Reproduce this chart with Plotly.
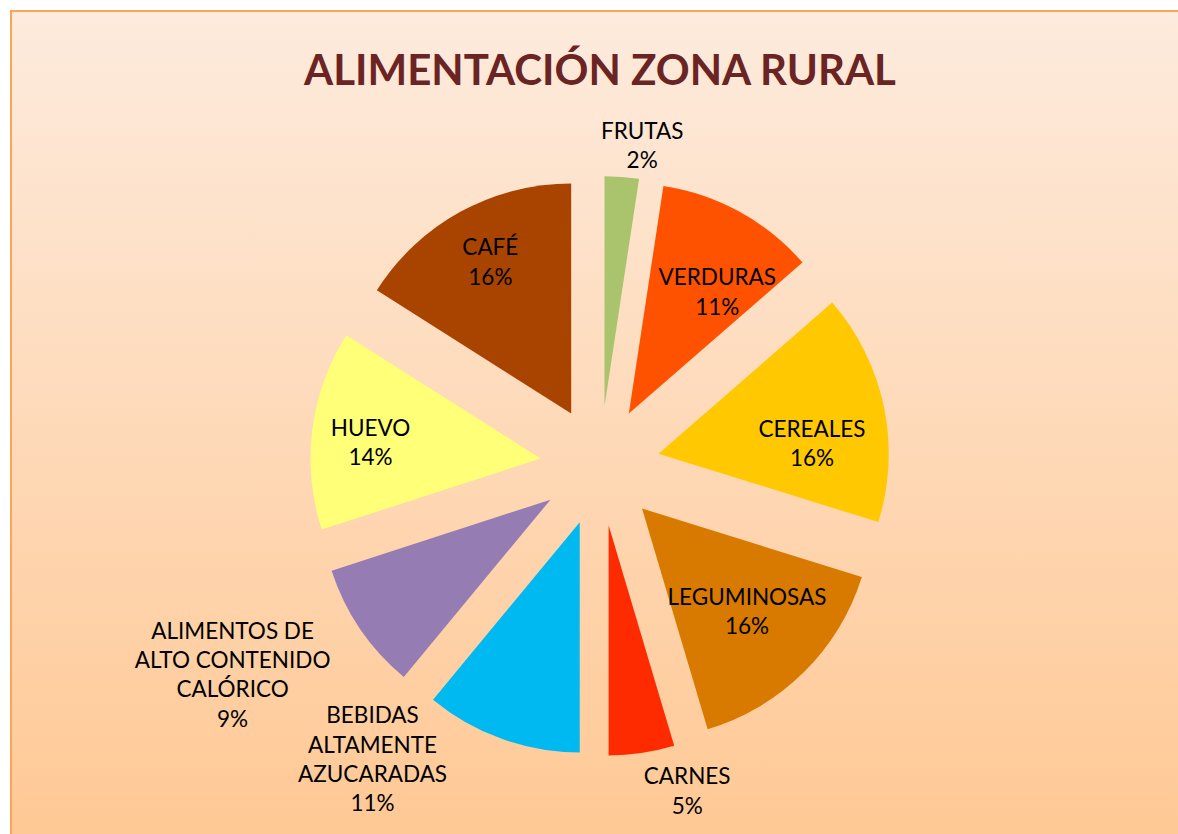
import base64
import plotly.graph_objects as go

# ---- data ----
categories = [
    "FRUTAS", "VERDURAS", "CEREALES", "LEGUMINOSAS", "CARNES",
    "BEBIDAS<br>ALTAMENTE<br>AZUCARADAS",
    "ALIMENTOS DE<br>ALTO CONTENIDO<br>CALÓRICO",
    "HUEVO", "CAFÉ",
]
values = [2.4, 11.2, 16.2, 15.6, 4.6, 11, 9, 14, 16]

# ---- styling / layout (not data) ----
colors = ["#A9C46C", "#FF5200", "#FFC800", "#D97A00", "#FF2B00",
          "#00B9F1", "#957DB3", "#FFFF78", "#A94400"]
text_positions = ["outside", "inside", "inside", "inside", "outside",
                  "outside", "outside", "inside", "inside"]
# label nudges in pixels (dx right, dy down) to mimic the original label placement
label_nudge = [(-35, -4), (6, 28), (2, 21), (-5, -9), (-12, 10),
               (-26, -31), (-1, 27), (-10, 4), (-6, -16)]

W, H = 1178, 834
FONT = "Lato, Open Sans, sans-serif"
CX, CY, HALF = 600, 466, 290   # pie box centre and half size, px
PULL = 0.26

svg = (
    '<svg xmlns="http://www.w3.org/2000/svg" width="100" height="100" preserveAspectRatio="none">'
    '<defs><linearGradient id="g" x1="0" y1="0" x2="0" y2="1">'
    '<stop offset="0" stop-color="#FDEBDD"/><stop offset="1" stop-color="#FFC894"/>'
    '</linearGradient></defs><rect width="100" height="100" fill="url(#g)"/></svg>'
)
src = "data:image/svg+xml;base64," + base64.b64encode(svg.encode()).decode()


def domain(dx=0, dy=0):
    return dict(x=[(CX - HALF + dx) / W, (CX + HALF + dx) / W],
                y=[1 - (CY + HALF + dy) / H, 1 - (CY - HALF + dy) / H])


fig = go.Figure()
# the slices
fig.add_trace(go.Pie(
    labels=categories,
    values=values,
    sort=False,
    direction="clockwise",
    rotation=0,
    pull=[PULL] * len(values),
    marker=dict(colors=colors, line=dict(width=0)),
    textinfo="none",
    showlegend=False,
    domain=domain(),
    hoverinfo="label+percent",
))

# the labels: one transparent copy of the pie per label, so each label can be nudged
for i, (dx, dy) in enumerate(label_nudge):
    tp = ["none"] * len(values)
    tp[i] = text_positions[i]
    fig.add_trace(go.Pie(
        labels=categories,
        values=values,
        sort=False,
        direction="clockwise",
        rotation=0,
        pull=[PULL] * len(values),
        marker=dict(colors=["rgba(0,0,0,0)"] * len(values), line=dict(width=0)),
        texttemplate="%{label}<br>%{percent:.0%}",
        textposition=tp,
        insidetextorientation="horizontal",
        textfont=dict(family=FONT, size=22.5, color="#000000"),
        showlegend=False,
        domain=domain(dx, dy),
        hoverinfo="skip",
    ))

fig.update_layout(
    width=W, height=H,
    showlegend=False,
    margin=dict(l=0, r=0, t=0, b=0, pad=0, autoexpand=False),
    paper_bgcolor="#FFFFFF",
    uniformtext=dict(minsize=22.5, mode="show"),
    title=dict(
        text="<b>ALIMENTACIÓN ZONA RURAL</b>",
        font=dict(family=FONT, size=42, color="#6B2424"),
        x=600 / W, xanchor="center", y=1 - 70 / H, yanchor="middle",
    ),
    images=[dict(
        source=src, xref="paper", yref="paper",
        x=10 / W, y=1 - 10 / H, sizex=1.0, sizey=1.0,
        xanchor="left", yanchor="top", sizing="stretch", layer="below",
    )],
    shapes=[dict(
        type="rect", xref="paper", yref="paper",
        x0=11 / W, x1=1.05, y0=-0.05, y1=1 - 11 / H,
        line=dict(color="#F9A65A", width=2), fillcolor="rgba(0,0,0,0)",
        layer="below",
    )],
)

fig.write_html("out.html", config={"displayModeBar": False},
               post_script="document.body.style.margin='0';")
